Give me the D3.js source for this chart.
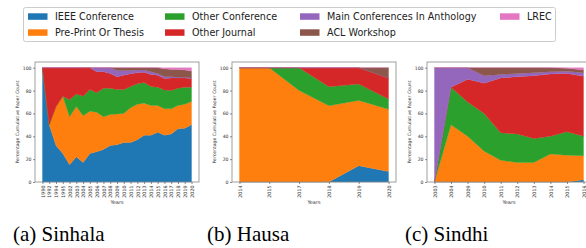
<!DOCTYPE html>
<html><head><meta charset="utf-8">
<script src="https://cdn.jsdelivr.net/npm/d3@7"></script>
<style>
body{margin:0;background:#fff;}
svg{display:block;}
</style></head>
<body>
<svg id="chart" width="586" height="248"></svg>
<script>
// ---------- data ----------
const seriesNames = ["IEEE Conference","Pre-Print Or Thesis","Other Conference","Other Journal","Main Conferences In Anthology","ACL Workshop","LREC"];
const seriesColors = ["#1f77b4","#ff7f0e","#2ca02c","#d62728","#9467bd","#8c564b","#e377c2"];

const sinhalaYears = ["1990","1992","1994","1995","2002","2003","2004","2005","2006","2007","2008","2009","2010","2011","2012","2013","2014","2015","2016","2017","2018","2019","2020"];
const sinhalaIEEE   = [100,50,32,25,15,22,17,25,26.5,28.5,32,32.5,34.5,34.5,37,41,41,43.5,41,42,46.5,47,50];
const sinhalaPre    = [0,0,34,50,42,44,41,37,34.5,28.5,27,27,25.5,30.5,31,28,26,23.5,23,22,20.5,21,20.5];
const sinhalaOConf  = [0,0,0,0,15,11,17,19,17,25,23,21.5,21,18.5,18,18,16.5,16,16.5,16,15,15,12.5];
const sinhalaOJour  = [0,50,34,25,28,23,25,19,18.5,14.5,13,11,12.5,11.2,9.5,9,10.5,10.5,10,11,9,8,7.5];
const sinhalaMain   = [0,0,0,0,0,0,0,0,3.5,3.5,5,5.5,4,2.8,2.5,2,2.5,1.5,1.5,1,0.7,0.7,0.5];
const sinhalaACLW   = [0,0,0,0,0,0,0,0,0,0,0,2.5,2.5,2.5,2,2,3.5,5,7,6.5,6.8,6.3,6];
const sinhalaLREC   = [0,0,0,0,0,0,0,0,0,0,0,0,0,0,0,0,0,0,1,1.5,1.5,2,3];

const hausaYears = ["2014","2015","2017","2018","2019","2020"];
const hausaIEEE  = [0,0,0,0,14.3,9.1];
const hausaPre   = [100,100,80,66.7,57.1,54.5];
const hausaOConf = [0,0,20,16.7,14.3,9.1];
const hausaOJour = [0,0,0,16.6,14.3,18.2];
const hausaMain  = [0,0,0,0,0,0];
const hausaACLW  = [0,0,0,0,0,9.1];
const hausaLREC  = [0,0,0,0,0,0];

const sindhiYears = ["2003","2004","2009","2010","2011","2012","2013","2014","2015","2016"];
const sindhiIEEE  = [0,0,0,0,0,0,0,0,0,2];
const sindhiPre   = [0,50,40,27,19,17,17,24.5,23.5,21];
const sindhiOConf = [0,33,30,33,24,25,21,15.5,20.5,17];
const sindhiOJour = [0,0,20,26.5,48,50,55,54.5,51,52.5];
const sindhiMain  = [100,17,10,6.5,3,3,2.5,2,2,3];
const sindhiACLW  = [0,0,0,7,6,5,4.5,3.5,2.5,2.5];
const sindhiLREC  = [0,0,0,0,0,0,0,0,0.5,2];

const yTicks = [0,20,40,60,80,100];
const captions = ["(a) Sinhala","(b) Hausa","(c) Sindhi"];

// ---------- layout ----------
const svg = d3.select("#chart");
const panels = [
  {years: sinhalaYears, data:[sinhalaIEEE,sinhalaPre,sinhalaOConf,sinhalaOJour,sinhalaMain,sinhalaACLW,sinhalaLREC], left:35, capX:13},
  {years: hausaYears,   data:[hausaIEEE,hausaPre,hausaOConf,hausaOJour,hausaMain,hausaACLW,hausaLREC], left:232, capX:207},
  {years: sindhiYears,  data:[sindhiIEEE,sindhiPre,sindhiOConf,sindhiOJour,sindhiMain,sindhiACLW,sindhiLREC], left:427, capX:405}
];
const axW = 164, axTop = 62, axBottom = 182;
const spineColor = "#888";

panels.forEach((p, pi) => {
  const g = svg.append("g");
  const pad = axW * 0.0455;
  const x = d3.scalePoint().domain(p.years).range([p.left + pad, p.left + axW - pad]);
  const y = d3.scaleLinear().domain([0,105]).range([axBottom, axTop]);

  const rows = p.years.map((yr, i) => {
    const r = {year: yr};
    seriesNames.forEach((s, si) => r[s] = p.data[si][i]);
    return r;
  });
  const stacked = d3.stack().keys(seriesNames)(rows);
  const area = d3.area()
    .x(d => x(d.data.year))
    .y0(d => y(d[0]))
    .y1(d => y(d[1]));
  g.selectAll("path.layer").data(stacked).join("path")
    .attr("class","layer")
    .attr("d", area)
    .attr("fill", (d,i) => seriesColors[i])
    .attr("stroke", (d,i) => seriesColors[i])
    .attr("stroke-width", 0.3);

  // frame
  g.append("rect").attr("x", p.left).attr("y", axTop).attr("width", axW).attr("height", axBottom - axTop)
    .attr("fill","none").attr("stroke", spineColor).attr("stroke-width", 0.8);

  // y axis
  const yAxis = d3.axisLeft(y).tickValues(yTicks).tickSize(2).tickPadding(1.5);
  const ya = g.append("g").attr("transform", `translate(${p.left},0)`).call(yAxis);
  ya.select(".domain").remove();
  ya.selectAll("line").attr("stroke","#444").attr("stroke-width",0.6);
  ya.selectAll("text").attr("font-family","DejaVu Sans").attr("font-size",4.6).attr("fill","#333");

  // x axis
  const xAxis = d3.axisBottom(x).tickSize(2).tickPadding(1.5);
  const xa = g.append("g").attr("transform", `translate(0,${axBottom})`).call(xAxis);
  xa.select(".domain").remove();
  xa.selectAll("line").attr("stroke","#444").attr("stroke-width",0.6);
  xa.selectAll("text")
    .attr("font-family","DejaVu Sans").attr("font-size",4.8).attr("fill","#333")
    .attr("transform","rotate(-90)")
    .attr("text-anchor","end")
    .attr("x",-3.5).attr("y",0).attr("dy","0.35em");

  // axis labels
  g.append("text").attr("x", p.left + axW/2).attr("y", 204)
    .attr("text-anchor","middle").attr("font-family","DejaVu Sans").attr("font-size",5).attr("fill","#333")
    .text("Years");
  g.append("text")
    .attr("transform", `translate(${p.left - 16},${(axTop+axBottom)/2}) rotate(-90)`)
    .attr("text-anchor","middle").attr("font-family","DejaVu Sans").attr("font-size",4.6).attr("fill","#333")
    .text("Percentage Cumulative Paper Count");

  // caption
  svg.append("text").attr("x", p.capX).attr("y", 241)
    .attr("font-family","Liberation Serif").attr("font-size",21).attr("fill","#000")
    .text(captions[pi]);
});

// ---------- legend ----------
const leg = svg.append("g");
leg.append("rect").attr("x",23.5).attr("y",7.5).attr("width",532).attr("height",34)
  .attr("rx",2).attr("fill","#fff").attr("stroke","#ccc").attr("stroke-width",1);
const colX = [28,165,300,500];
const rowY = [16.5,32.5];
const order = [[0,0],[0,1],[1,0],[1,1],[2,0],[2,1],[3,0]];
seriesNames.forEach((s, i) => {
  const [c, r] = order[i];
  leg.append("rect").attr("x", colX[c]).attr("y", rowY[r]-3.2).attr("width",19.5).attr("height",6.5)
    .attr("fill", seriesColors[i]);
  leg.append("text").attr("x", colX[c] + 27).attr("y", rowY[r]).attr("dy","0.35em")
    .attr("font-family","DejaVu Sans").attr("font-size",9.6).attr("fill","#222")
    .text(s);
});
</script>
</body></html>
